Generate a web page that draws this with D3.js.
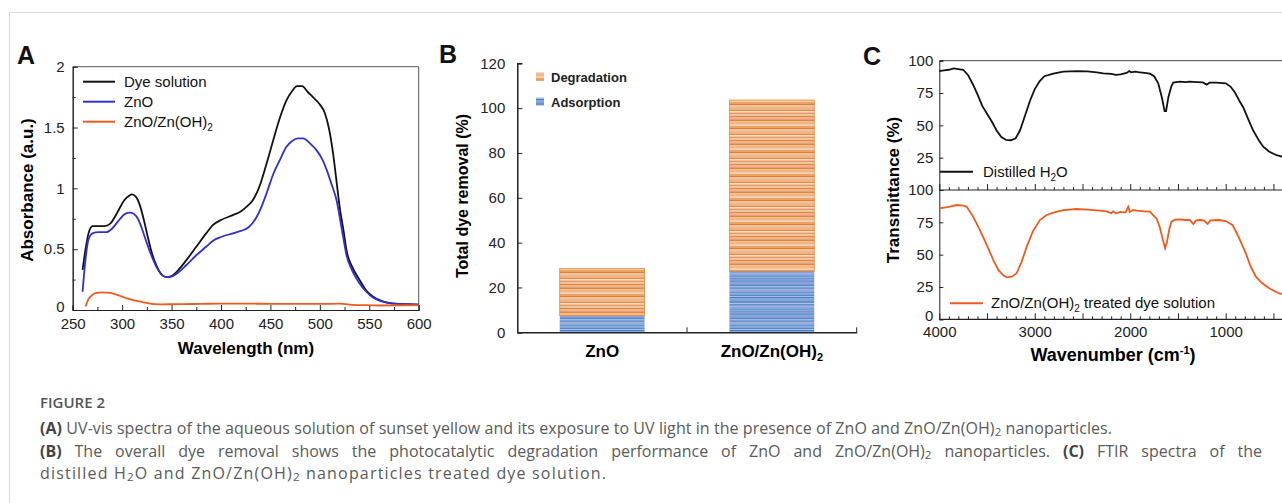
<!DOCTYPE html>
<html>
<head>
<meta charset="utf-8">
<script src="https://cdn.jsdelivr.net/npm/d3@7"></script>
<style>
  body { margin: 0; background: #fff; }
  svg text { font-family: "Liberation Sans", Arial, sans-serif; }
  svg text.cap { font-family: "Open Sans", Lato, sans-serif; }
  .domain, .tick line { stroke: #222; }
</style>
</head>
<body>
<div id="chart-area"></div>
<script>
// ---------- data ----------
// panel A: UV-vis spectra
const dyeWl  = [260,263,266,270,275,282,288,295,302,307,310,314,318,322,326,330,335,340,345,350,357,365,375,385,392,400,412,420,426,432,440,446,453,460,466,472,477,482,488,493,500,505,509,513,517,520,524,527,533,540,547,554,561,568,580,600]
const dyeAbs = [0.33,0.5,0.63,0.69,0.69,0.69,0.71,0.8,0.9,0.94,0.95,0.93,0.86,0.74,0.6,0.47,0.36,0.29,0.27,0.28,0.33,0.41,0.52,0.63,0.7,0.74,0.78,0.81,0.85,0.9,1.04,1.2,1.4,1.59,1.72,1.8,1.84,1.84,1.79,1.75,1.69,1.62,1.5,1.31,1.05,0.85,0.65,0.49,0.35,0.25,0.16,0.11,0.08,0.06,0.05,0.045]
const znoWl  = [260,263,266,270,276,284,290,297,303,308,312,316,320,325,330,335,340,345,350,357,365,375,385,392,400,412,420,428,435,440,447,453,460,466,472,478,483,490,497,503,507,512,517,521,524,527,533,540,547,554,561,568,580,600]
const znoAbs = [0.15,0.42,0.58,0.63,0.64,0.64,0.67,0.74,0.79,0.8,0.79,0.75,0.67,0.55,0.44,0.35,0.29,0.27,0.275,0.31,0.37,0.45,0.52,0.57,0.6,0.63,0.65,0.68,0.75,0.83,0.98,1.12,1.24,1.34,1.39,1.41,1.41,1.37,1.31,1.23,1.15,1.03,0.9,0.72,0.58,0.45,0.32,0.22,0.15,0.1,0.075,0.06,0.05,0.045]
const ohWl   = [263,266,270,274,280,288,295,300,305,312,318,325,332,340,360,380,400,430,460,500,520,530,545,560,600]
const ohAbs  = [0.03,0.09,0.125,0.14,0.145,0.14,0.125,0.11,0.095,0.08,0.07,0.058,0.048,0.047,0.048,0.05,0.053,0.052,0.05,0.05,0.052,0.045,0.04,0.037,0.04]
const seriesA = ["Dye solution", "ZnO", "ZnO/Zn(OH)2"]

// panel B: dye removal (%)
const catsB = ["ZnO", "ZnO/Zn(OH)2"]
const adsorption  = [7.5, 27.3]
const degradation = [21, 76.3]

// panel C: FTIR
const waterWn = [4000,3950,3900,3850,3800,3750,3700,3650,3600,3550,3500,3450,3400,3350,3300,3250,3200,3155,3100,3050,3000,2950,2900,2806,2700,2561,2450,2350,2283,2200,2150,2100,2038,2010,1990,1950,1900,1850,1794,1750,1707,1670,1640,1625,1600,1570,1550,1480,1420,1380,1300,1240,1200,1170,1100,1000,950,900,850,817,760,712,650,607,550,500,467,420,400]
const waterT  = [92,92.5,93,94,93.5,93,89,82,74,65,59,53,46,41,38.7,38.5,40,46,58,69,78,84,88,90,91.5,92,91.8,91,90.2,89.8,89,89.5,90.5,92,91,91.5,91,90.5,90,88,82.5,72,61,61,72,80,83,83.8,83.5,83.8,83.5,83.2,81.5,83,83,82.5,80,75,68,64,54,46,38,33.5,30,28,27,26,25.5]
const treatWn = [4000,3900,3818,3750,3713,3650,3574,3500,3435,3380,3330,3294,3240,3190,3140,3085,3020,2946,2880,2806,2700,2561,2450,2317,2250,2200,2178,2150,2100,2050,2021,2005,1970,1934,1850,1794,1760,1724,1690,1660,1635,1615,1590,1568,1530,1480,1420,1376,1340,1310,1270,1230,1190,1160,1068,1000,929,880,830,789,740,684,620,545,480,440,400]
const treatT  = [85.8,87,88.4,88,87,80,69,57,46,38,34,32.5,33,35.6,44,56,68,76.8,80.5,82.5,84.5,85.3,84.8,84,83.5,82,83.5,82,83,82.5,87,83,84.5,84,83.5,83.2,80.5,78,71,62,55,60,70,75.5,77,77.3,76.8,76.8,73.7,76.5,76.8,76.5,73.7,76.5,76.8,76,73,66,58,51,41,33,28,24,21.5,20,19.5]

const BLACK = "#111", BLUE = "#3030d0", ORANGE = "#f05a1e"

const svg = d3.select("#chart-area").append("svg")
    .attr("width", 1282)
    .attr("height", 503)

// frame of the figure box
svg.append("path").attr("d", "M9.5,503 V12.5 H1282").attr("fill", "none").attr("stroke", "#d8d8d8")

function panelLabel(t, x, y) {
    svg.append("text").attr("x", x).attr("y", y).attr("font-size", "25px")
        .attr("font-weight", "bold").attr("fill", "#111").text(t)
}

// ================= Panel A =================
const xA = d3.scaleLinear().domain([250, 600]).range([72.7, 418.7])
const yA = d3.scaleLinear().domain([0, 2]).range([310, 66.7])
const gA = svg.append("g")

gA.append("g").attr("transform", "translate(0,310)")
    .call(d3.axisBottom(xA).tickValues(d3.range(250, 601, 50)).tickSize(-5).tickPadding(8))
gA.append("g").attr("transform", "translate(0,310)")
    .call(d3.axisBottom(xA).tickValues(d3.range(275, 600, 50)).tickSize(-3).tickFormat(""))
gA.append("g").attr("transform", "translate(72.7,0)")
    .call(d3.axisLeft(yA).tickValues([0, 0.5, 1, 1.5, 2]).tickSize(-5).tickPadding(8).tickFormat(d3.format("")))
gA.append("g").attr("transform", "translate(72.7,0)")
    .call(d3.axisLeft(yA).tickValues([0.25, 0.75, 1.25, 1.75]).tickSize(-3).tickFormat(""))
gA.selectAll(".tick text").attr("font-size", "15px").attr("fill", "#222")
gA.selectAll(".domain").attr("stroke", "#333")
// nudge the "0" label upward as in the original
gA.selectAll(".tick text").filter(d => d === 0).attr("dy", "0.1em")
gA.append("path").attr("d", "M72.7,66.7 H418.7 V310").attr("fill", "none").attr("stroke", "#555")

const lineA = d3.line().x(d => xA(d[0])).y(d => yA(d[1])).curve(d3.curveMonotoneX)
const dataA = [
    { c: BLACK, pts: d3.zip(dyeWl, dyeAbs) },
    { c: BLUE, pts: d3.zip(znoWl, znoAbs) },
    { c: ORANGE, pts: d3.zip(ohWl, ohAbs) }
]
gA.selectAll(".spec").data(dataA).enter().append("path")
    .attr("class", "spec")
    .attr("d", d => lineA(d.pts))
    .attr("fill", "none").attr("stroke", d => d.c).attr("stroke-width", 1.8)

// legend A
seriesA.forEach((s, i) => {
    const y = 81.7 + i * 20
    gA.append("line").attr("x1", 83).attr("x2", 115).attr("y1", y).attr("y2", y)
        .attr("stroke", dataA[i].c).attr("stroke-width", 2)
    const t = gA.append("text").attr("x", 124).attr("y", y + 5).attr("font-size", "15px").attr("fill", "#111")
    if (s.endsWith("2")) {
        t.append("tspan").text(s.slice(0, -1))
        t.append("tspan").attr("font-size", "10px").attr("dy", 4).text("2")
    } else t.text(s)
})

gA.append("text").attr("x", 246).attr("y", 354).attr("text-anchor", "middle")
    .attr("font-size", "17px").attr("font-weight", "bold").text("Wavelength (nm)")
gA.append("text").attr("transform", "translate(33,190) rotate(-90)").attr("text-anchor", "middle")
    .attr("font-size", "17px").attr("font-weight", "bold").text("Absorbance (a.u.)")
panelLabel("A", 17, 64)

// ================= Panel B =================
const xB = d3.scaleBand().domain(catsB).range([517.3, 856.7])
const yB = d3.scaleLinear().domain([0, 120]).range([332.3, 63.3])
const gB = svg.append("g")

// striped fills (colour, stripe height)
const defs = svg.append("defs")
function stripes(id, list) {
    const h = d3.sum(list, d => d[1])
    const p = defs.append("pattern").attr("id", id).attr("patternUnits", "userSpaceOnUse")
        .attr("width", 10).attr("height", h)
    let y = 0
    list.forEach(d => {
        p.append("rect").attr("x", 0).attr("y", y).attr("width", 10).attr("height", d[1]).attr("fill", d[0])
        y += d[1]
    })
}
stripes("degr", [["#e8863a", 1.5], ["#f3b98a", 2], ["#d98a52", 1], ["#f6d2ae", 1.5], ["#eda064", 2], ["#e27e34", 1],
    ["#f2c49c", 2.5], ["#cf8c62", 1], ["#f0ac74", 1.5], ["#eb9248", 1], ["#f7d9bc", 1.5], ["#de9866", 2],
    ["#f4bf92", 1.5], ["#e5883e", 1], ["#f1b584", 2], ["#d8a080", 1]])
stripes("adso", [["#3f7cc2", 1.5], ["#78a6da", 1.5], ["#9c92d8", 1], ["#4f88c9", 2], ["#b6cbea", 1], ["#3a74b8", 1.5],
    ["#8ab0df", 1], ["#a99ddc", 1.5], ["#5b93d0", 2], ["#6e9cd4", 1], ["#4a84c6", 1.5], ["#c0b8e6", 1]])

const barW = xB.bandwidth() * 0.5
gB.selectAll(".ads").data(catsB).enter().append("rect").attr("class", "ads")
    .attr("x", d => xB(d) + barW / 2).attr("width", barW)
    .attr("y", (d, i) => yB(adsorption[i]))
    .attr("height", (d, i) => yB(0) - yB(adsorption[i]))
    .attr("fill", "url(#adso)")
gB.selectAll(".deg").data(catsB).enter().append("rect").attr("class", "deg")
    .attr("x", d => xB(d) + barW / 2).attr("width", barW)
    .attr("y", (d, i) => yB(adsorption[i] + degradation[i]))
    .attr("height", (d, i) => yB(adsorption[i]) - yB(adsorption[i] + degradation[i]))
    .attr("fill", "url(#degr)").attr("stroke", "#e8862e").attr("stroke-width", 0.8)

gB.append("g").attr("transform", "translate(517.3,0)")
    .call(d3.axisLeft(yB).tickValues(d3.range(0, 121, 20)).tickSize(-5).tickPadding(12))
const axB = gB.append("g").attr("transform", "translate(0,332.3)")
    .call(d3.axisBottom(xB).tickSize(0).tickPadding(14).tickFormat(""))
xB.domain().forEach(c => axB.append("line").attr("x1", xB(c) + xB.bandwidth()).attr("x2", xB(c) + xB.bandwidth())
    .attr("y1", 0).attr("y2", -5).attr("stroke", "#222"))
gB.selectAll(".tick text").attr("font-size", "15px").attr("fill", "#222")
gB.selectAll(".domain").attr("stroke", "#222").attr("stroke-width", 1.5)

catsB.forEach(c => {
    const t = gB.append("text").attr("x", xB(c) + xB.bandwidth() / 2).attr("y", 357)
        .attr("text-anchor", "middle").attr("font-size", "17px").attr("font-weight", "bold")
    if (c.endsWith("2")) {
        t.append("tspan").text(c.slice(0, -1))
        t.append("tspan").attr("font-size", "11px").attr("dy", 4).text("2")
    } else t.text(c)
})

const legB = [["Degradation", "url(#degr)"], ["Adsorption", "url(#adso)"]]
legB.forEach((l, i) => {
    const y = 76.7 + i * 25
    gB.append("rect").attr("x", 536).attr("y", y - 4).attr("width", 8).attr("height", 8).attr("fill", l[1])
    gB.append("text").attr("x", 551).attr("y", y + 5).attr("font-size", "13px").attr("font-weight", "bold")
        .attr("fill", "#222").text(l[0])
})
gB.append("text").attr("transform", "translate(468,196) rotate(-90)").attr("text-anchor", "middle")
    .attr("font-size", "16px").attr("font-weight", "bold").text("Total dye removal (%)")
panelLabel("B", 439, 63)

// ================= Panel C =================
const xC = d3.scaleLinear().domain([4000, 400]).range([939.3, 1283])
const yTop = d3.scaleLinear().domain([0, 100]).range([190, 60.7])
const yBot = d3.scaleLinear().domain([0, 100]).range([319.3, 190])
const gC = svg.append("g")

function wnAxis(y, labels) {
    const g = gC.append("g").attr("transform", `translate(0,${y})`)
    g.call(d3.axisBottom(xC).tickValues(d3.range(500, 4001, 500)).tickSize(-6).tickPadding(7)
        .tickFormat(d => labels && d % 1000 === 0 ? d : ""))
    g.append("g").call(d3.axisBottom(xC).tickValues(d3.range(500, 4001, 100).filter(v => v % 500)).tickSize(-3).tickFormat(""))
    g.selectAll(".domain").remove()
    g.append("line").attr("x1", 939.3).attr("x2", 1282).attr("stroke", "#222").attr("stroke-width", 1.2)
}
wnAxis(190, false)
wnAxis(319.3, true)
gC.append("line").attr("x1", 939.3).attr("x2", 1282).attr("y1", 60.7).attr("y2", 60.7).attr("stroke", "#444")

gC.append("g").attr("transform", "translate(939.3,0)")
    .call(d3.axisLeft(yTop).tickValues([25, 50, 75, 100]).tickSize(-4).tickPadding(6))
const axBot = gC.append("g").attr("transform", "translate(939.3,0)")
    .call(d3.axisLeft(yBot).tickValues([0, 25, 50, 75, 100]).tickSize(-4).tickPadding(6))
gC.selectAll(".tick text").attr("font-size", "15px").attr("fill", "#222")
axBot.selectAll(".tick text").filter(d => d === 0).attr("dy", "0.1em")
gC.selectAll(".domain").attr("stroke", "#222")

const lineTop = d3.line().x(d => xC(d[0])).y(d => yTop(d[1]))
const lineBot = d3.line().x(d => xC(d[0])).y(d => yBot(d[1]))
gC.append("path").attr("d", lineTop(d3.zip(waterWn, waterT)))
    .attr("fill", "none").attr("stroke", BLACK).attr("stroke-width", 1.8)
gC.append("path").attr("d", lineBot(d3.zip(treatWn, treatT)))
    .attr("fill", "none").attr("stroke", ORANGE).attr("stroke-width", 1.8)

// legends C
gC.append("line").attr("x1", 940).attr("x2", 973).attr("y1", 171.7).attr("y2", 171.7).attr("stroke", BLACK).attr("stroke-width", 2)
const tW = gC.append("text").attr("x", 983).attr("y", 176.5).attr("font-size", "15px").attr("fill", "#111")
tW.append("tspan").text("Distilled H")
tW.append("tspan").attr("font-size", "10px").attr("dy", 4).text("2")
tW.append("tspan").attr("dy", -4).text("O")
gC.append("line").attr("x1", 950).attr("x2", 983).attr("y1", 303.3).attr("y2", 303.3).attr("stroke", ORANGE).attr("stroke-width", 2)
const tT = gC.append("text").attr("x", 991).attr("y", 308).attr("font-size", "15px").attr("fill", "#111")
tT.append("tspan").text("ZnO/Zn(OH)")
tT.append("tspan").attr("font-size", "10px").attr("dy", 4).text("2")
tT.append("tspan").attr("dy", -4).text(" treated dye solution")

const tX = gC.append("text").attr("x", 1113).attr("y", 361).attr("text-anchor", "middle")
    .attr("font-size", "18px").attr("font-weight", "bold")
tX.append("tspan").text("Wavenumber (cm")
tX.append("tspan").attr("font-size", "11px").attr("dy", -7).text("-1")
tX.append("tspan").attr("dy", 7).text(")")
gC.append("text").attr("transform", "translate(899,190) rotate(-90)").attr("text-anchor", "middle")
    .attr("font-size", "17px").attr("font-weight", "bold").text("Transmittance (%)")
panelLabel("C", 863, 65)

// ================= Caption =================
const cap = svg.append("g").attr("fill", "#5a5a5a")
cap.append("text").attr("class", "cap").attr("x", 40).attr("y", 408).attr("font-size", "15px")
    .attr("font-weight", 600).attr("fill", "#555").text("FIGURE 2")

const CAP_FS = 16
const capLines = [
    [434, [["(A)", "b"], [" UV-vis spectra of the aqueous solution of sunset yellow and its exposure to UV light in the presence of ZnO and ZnO/Zn(OH)"], ["2", "s"], [" nanoparticles."]], 1072, "letter"],
    [457, [["(B)", "b"], [" The overall dye removal shows the photocatalytic degradation performance of ZnO and ZnO/Zn(OH)"], ["2", "s"], [" nanoparticles. "], ["(C)", "b"], [" FTIR spectra of the"]], 1222, "word"],
    [479, [["distilled H"], ["2", "s"], ["O and ZnO/Zn(OH)"], ["2", "s"], [" nanoparticles treated dye solution."]], 566, "letter"]
]

function capLine(y, parts, fs) {
    const t = cap.append("text").attr("class", "cap").attr("x", 40).attr("y", y).attr("font-size", fs + "px")
    let sub = false
    parts.forEach(p => {
        const s = t.append("tspan").text(p[0])
        if (p[1] === "b") s.attr("font-weight", "bold").attr("fill", "#444")
        if (p[1] === "s") { s.attr("font-size", (fs * 0.72) + "px").attr("dy", 1.5); sub = true }
        else if (sub) { s.attr("dy", -1.5); sub = false }
    })
    return t
}
// fit each line to the width it has in the original
capLines.forEach(([y, parts, len, mode]) => {
    const t = capLine(y, parts, CAP_FS)
    const str = parts.map(p => p[0]).join("")
    const diff = len - t.node().getComputedTextLength()
    if (mode === "letter") t.attr("letter-spacing", diff / (str.length - 1))
    else t.attr("word-spacing", diff / (str.split(" ").length - 1))
})
</script>
</body>
</html>
